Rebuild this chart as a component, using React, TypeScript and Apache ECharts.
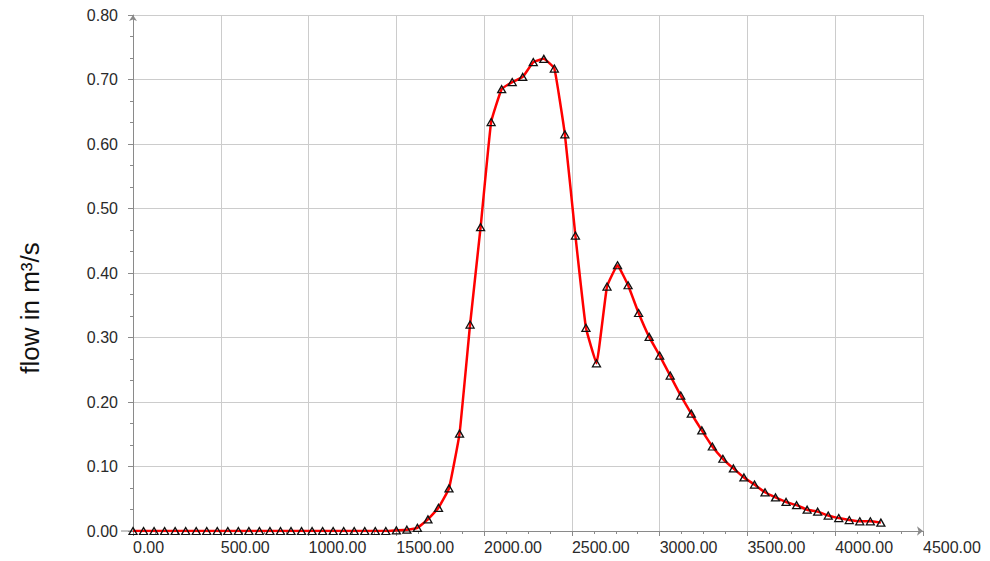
import React, { useEffect, useRef } from "react";
import * as echarts from "echarts";

// Sample times (s) of the hydrograph
const times: number[] = [
  0, 60, 120, 180, 240, 300, 360, 420, 480, 540,
  600, 660, 720, 780, 840, 900, 960, 1020, 1080, 1140,
  1200, 1260, 1320, 1380, 1440, 1500, 1560, 1620, 1680, 1740,
  1800, 1860, 1920, 1980, 2040, 2100, 2160, 2220, 2280, 2340,
  2400, 2460, 2520, 2580, 2640, 2700, 2760, 2820, 2880, 2940,
  3000, 3060, 3120, 3180, 3240, 3300, 3360, 3420, 3480, 3540,
  3600, 3660, 3720, 3780, 3840, 3900, 3960, 4020, 4080, 4140,
  4200, 4260,
];

// Discharge (m³/s) at each sample time
const flows: number[] = [
  0.0, 0.0, 0.0, 0.0, 0.0, 0.0, 0.0, 0.0, 0.0, 0.0,
  0.0, 0.0, 0.0, 0.0, 0.0, 0.0, 0.0, 0.0, 0.0, 0.0,
  0.0, 0.0, 0.0, 0.0, 0.0, 0.001, 0.002, 0.005, 0.018, 0.036,
  0.066, 0.151, 0.32, 0.471, 0.634, 0.685, 0.696, 0.704, 0.727, 0.732,
  0.717, 0.615, 0.458, 0.315, 0.26, 0.379, 0.412, 0.381, 0.338, 0.301,
  0.272, 0.241, 0.21, 0.182, 0.156, 0.131, 0.112, 0.097, 0.083, 0.072,
  0.06, 0.052, 0.045, 0.04, 0.033, 0.03, 0.024, 0.02, 0.017, 0.015,
  0.015, 0.013,
];

const yAxisTitle = "flow in m³/s";

const FONT = "'Liberation Sans', Arial, sans-serif";
const LABEL_COLOR = "#2a2a2a";
const AXIS_COLOR = "#8a8a8a";
const GRID_COLOR = "#cccccc";

export default function App() {
  const ref = useRef<HTMLDivElement>(null);

  useEffect(() => {
    if (!ref.current) return;
    const chart = echarts.init(ref.current, null, { renderer: "svg" });

    const points = times.map((t, i) => [t, flows[i]]);

    const titleText = {
      type: "text",
      x: 30,
      y: 308,
      rotation: Math.PI / 2,
      style: {
        text: yAxisTitle,
        fill: "#111111",
        font: `26px ${FONT}`,
        textAlign: "center",
        textVerticalAlign: "middle",
      },
    };

    chart.setOption({
      animation: false,
      backgroundColor: "#ffffff",
      grid: { left: 133, right: 67, top: 15, bottom: 30 },
      xAxis: {
        type: "value",
        min: 0,
        max: 4500,
        interval: 500,
        axisLine: {
          show: true,
          lineStyle: { color: AXIS_COLOR, width: 1 },
          symbol: ["none", "arrow"],
          symbolSize: [7, 6],
        },
        axisTick: { show: true, length: 5, lineStyle: { color: AXIS_COLOR } },
        minorTick: { show: true, splitNumber: 4, length: 3, lineStyle: { color: AXIS_COLOR } },
        splitLine: { show: true, lineStyle: { color: GRID_COLOR, width: 1 } },
        axisLabel: {
          align: "left",
          margin: 8,
          color: LABEL_COLOR,
          fontFamily: FONT,
          fontSize: 16,
          formatter: (v: number) => v.toFixed(2),
        },
      },
      yAxis: {
        type: "value",
        min: 0,
        max: 0.8,
        interval: 0.1,
        axisLine: {
          show: true,
          lineStyle: { color: AXIS_COLOR, width: 1 },
          symbol: ["none", "arrow"],
          symbolSize: [6, 6],
        },
        axisTick: { show: true, length: 5, lineStyle: { color: AXIS_COLOR } },
        minorTick: { show: true, splitNumber: 3, length: 3, lineStyle: { color: AXIS_COLOR } },
        splitLine: { show: true, lineStyle: { color: GRID_COLOR, width: 1 } },
        axisLabel: {
          margin: 15,
          color: LABEL_COLOR,
          fontFamily: FONT,
          fontSize: 16,
          formatter: (v: number) => v.toFixed(2),
        },
      },
      series: [
        {
          type: "line",
          data: points,
          smooth: 0.1,
          symbol: "triangle",
          symbolSize: [8, 7],
          showAllSymbol: true,
          lineStyle: { color: "#ff0000", width: 2.5 },
          itemStyle: { color: "rgba(255,255,255,0)", borderColor: "#111111", borderWidth: 1.3 },
          z: 3,
        },
      ],
      graphic: [titleText],
    });

    // short stub of the x axis line to the left of the origin
    const origin = chart.convertToPixel({ gridIndex: 0 }, [0, 0]) as number[];
    if (origin) {
      chart.setOption({
        graphic: [
          titleText,
          {
            type: "line",
            shape: { x1: origin[0] - 12, y1: origin[1], x2: origin[0], y2: origin[1] },
            style: { stroke: AXIS_COLOR, lineWidth: 1 },
          },
        ],
      });
    }

    return () => chart.dispose();
  }, []);

  return (
    <div
      ref={ref}
      style={{ position: "absolute", left: 0, top: 0, width: 990, height: 561 }}
    />
  );
}
